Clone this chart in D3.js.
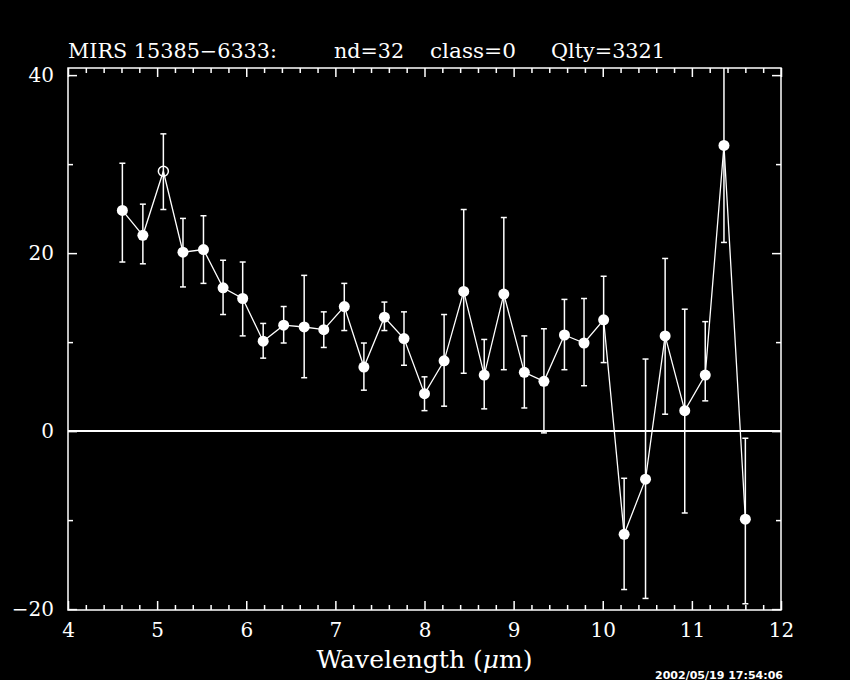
<!DOCTYPE html>
<html>
<head>
<meta charset="utf-8">
<script src="https://cdn.jsdelivr.net/npm/d3@7"></script>
<style>
  body { margin: 0; background: #000; }
  svg { display: block; background: #000; }
  .axis text { font-family: "DejaVu Serif", serif; font-size: 20px; fill: #fff; }
  .axis path { display: none; }
  .axis line { stroke: #fff; stroke-width: 1.5; }
</style>
</head>
<body>
<script>
// wavelength (um), flux, upper/lower ends of the error bar
const wavelength = [4.61, 4.84, 5.07, 5.29, 5.52, 5.74, 5.96, 6.19, 6.42, 6.65, 6.87, 7.10,
  7.32, 7.55, 7.77, 8.00, 8.22, 8.44, 8.67, 8.89, 9.12, 9.34, 9.57, 9.79, 10.01, 10.24,
  10.48, 10.70, 10.92, 11.15, 11.36, 11.60];
const flux = [24.8, 22.0, 29.2, 20.1, 20.4, 16.1, 14.9, 10.1, 11.9, 11.7, 11.4, 14.0,
  7.2, 12.8, 10.4, 4.2, 7.9, 15.7, 6.3, 15.4, 6.6, 5.6, 10.8, 9.9, 12.5, -11.6,
  -5.4, 10.7, 2.3, 6.3, 32.1, -9.9];
const errTop = [30.1, 25.5, 33.4, 23.9, 24.2, 19.2, 19.0, 12.1, 14.0, 17.5, 13.4, 16.6,
  9.9, 14.5, 13.4, 6.1, 13.1, 24.9, 10.3, 24.0, 10.7, 11.5, 14.8, 14.9, 17.4, -5.3,
  8.1, 19.4, 13.7, 12.3, 43.0, -0.8];
const errBot = [19.0, 18.8, 24.9, 16.2, 16.6, 13.1, 10.7, 8.2, 9.9, 6.0, 9.4, 11.3,
  4.6, 11.3, 7.4, 2.3, 2.8, 6.5, 2.5, 6.9, 2.6, -0.2, 6.9, 5.1, 7.7, -17.8,
  -18.8, 1.9, -9.2, 3.4, 21.2, -19.4];
const openPoint = [false, false, true, false, false, false, false, false, false, false, false, false,
  false, false, false, false, false, false, false, false, false, false, false, false, false, false,
  false, false, false, false, false, false];
const xMajor = [4, 5, 6, 7, 8, 9, 10, 11, 12];
const yMajor = [-20, 0, 20, 40];
const yMinor = [-10, 10, 30];

const title = ["MIRS 15385\u22126333:", "nd=32", "class=0", "Qlty=3321"];
const stamp = "2002/05/19 17:54:06";

const W = 850, H = 680;
const L = 68, R = 781, T = 68, B = 610;

const svg = d3.select("body").append("svg").attr("width", W).attr("height", H);

const x = d3.scaleLinear().domain([4, 12]).range([L, R]);
const y = d3.scaleLinear().domain([-20.1, 40.8]).range([B, T]);

const xMinor = d3.range(4, 12.001, 0.2).map(v => +v.toFixed(1)).filter(v => !xMajor.includes(v));

// frame ticks (all pointing inward)
svg.append("g").attr("class", "axis").attr("transform", `translate(0,${B})`)
  .call(d3.axisBottom(x).tickValues(xMajor).tickFormat(d3.format("d")).tickSizeInner(-9).tickSizeOuter(0).tickPadding(13));
svg.append("g").attr("class", "axis").attr("transform", `translate(0,${B})`)
  .call(d3.axisBottom(x).tickValues(xMinor).tickFormat("").tickSizeInner(-5).tickSizeOuter(0));
svg.append("g").attr("class", "axis").attr("transform", `translate(0,${T})`)
  .call(d3.axisTop(x).tickValues(xMajor).tickFormat("").tickSizeInner(-9).tickSizeOuter(0));
svg.append("g").attr("class", "axis").attr("transform", `translate(0,${T})`)
  .call(d3.axisTop(x).tickValues(xMinor).tickFormat("").tickSizeInner(-5).tickSizeOuter(0));

svg.append("g").attr("class", "axis").attr("transform", `translate(${L},0)`)
  .call(d3.axisLeft(y).tickValues(yMajor).tickFormat(d => d < 0 ? "\u2212" + Math.abs(d) : d).tickSizeInner(-9).tickSizeOuter(0).tickPadding(14));
svg.append("g").attr("class", "axis").attr("transform", `translate(${L},0)`)
  .call(d3.axisLeft(y).tickValues(yMinor).tickFormat("").tickSizeInner(-5).tickSizeOuter(0));
svg.append("g").attr("class", "axis").attr("transform", `translate(${R},0)`)
  .call(d3.axisRight(y).tickValues(yMajor).tickFormat("").tickSizeInner(-9).tickSizeOuter(0));
svg.append("g").attr("class", "axis").attr("transform", `translate(${R},0)`)
  .call(d3.axisRight(y).tickValues(yMinor).tickFormat("").tickSizeInner(-5).tickSizeOuter(0));

svg.append("rect")
  .attr("x", L).attr("y", T).attr("width", R - L).attr("height", B - T)
  .attr("fill", "none").attr("stroke", "#fff").attr("stroke-width", 1.5);

// zero line
svg.append("line")
  .attr("x1", L).attr("x2", R).attr("y1", y(0)).attr("y2", y(0))
  .attr("stroke", "#fff").attr("stroke-width", 2);

svg.append("clipPath").attr("id", "clip")
  .append("rect").attr("x", L).attr("y", T).attr("width", R - L).attr("height", B - T);

const plot = svg.append("g").attr("clip-path", "url(#clip)");
const data = wavelength.map((w, i) => ({ w, f: flux[i], hi: errTop[i], lo: errBot[i], open: openPoint[i] }));

// error bars
const eb = plot.selectAll(".eb").data(data).enter().append("g").attr("class", "eb")
  .attr("stroke", "#fff").attr("stroke-width", 1.5);
eb.append("line").attr("x1", d => x(d.w)).attr("x2", d => x(d.w)).attr("y1", d => y(d.hi)).attr("y2", d => y(d.lo));
eb.append("line").attr("x1", d => x(d.w) - 3).attr("x2", d => x(d.w) + 3).attr("y1", d => y(d.hi)).attr("y2", d => y(d.hi));
eb.append("line").attr("x1", d => x(d.w) - 3).attr("x2", d => x(d.w) + 3).attr("y1", d => y(d.lo)).attr("y2", d => y(d.lo));

// connecting line
plot.append("path").datum(data)
  .attr("fill", "none").attr("stroke", "#fff").attr("stroke-width", 1.3)
  .attr("d", d3.line().x(d => x(d.w)).y(d => y(d.f)));

// points
plot.selectAll(".pt").data(data).enter().append("circle").attr("class", "pt")
  .attr("cx", d => x(d.w)).attr("cy", d => y(d.f))
  .attr("r", d => d.open ? 5 : 5.5)
  .attr("fill", d => d.open ? "none" : "#fff")
  .attr("stroke", "#fff").attr("stroke-width", d => d.open ? 1.5 : 0);

// title
const tx = [68, 334, 430, 551];
const tw = [209, 70, 86, 114];
svg.append("g").selectAll("text").data(title).enter().append("text")
  .attr("x", (d, i) => tx[i]).attr("y", 58)
  .attr("textLength", (d, i) => tw[i]).attr("lengthAdjust", "spacingAndGlyphs")
  .attr("font-family", "DejaVu Serif, serif").attr("font-size", 20).attr("fill", "#fff")
  .text(d => d);

// x label
const xl = svg.append("text")
  .attr("x", x(8)).attr("y", 668).attr("text-anchor", "middle")
  .attr("font-family", "DejaVu Serif, serif").attr("font-size", 25).attr("fill", "#fff");
xl.append("tspan").text("Wavelength (");
xl.append("tspan").attr("font-style", "italic").text("\u03bc");
xl.append("tspan").text("m)");

// time stamp
svg.append("text")
  .attr("x", 655).attr("y", 679)
  .attr("textLength", 128).attr("lengthAdjust", "spacingAndGlyphs")
  .attr("font-family", "DejaVu Sans, sans-serif").attr("font-weight", "bold").attr("font-size", 10).attr("fill", "#fff")
  .text(stamp);
</script>
</body>
</html>
